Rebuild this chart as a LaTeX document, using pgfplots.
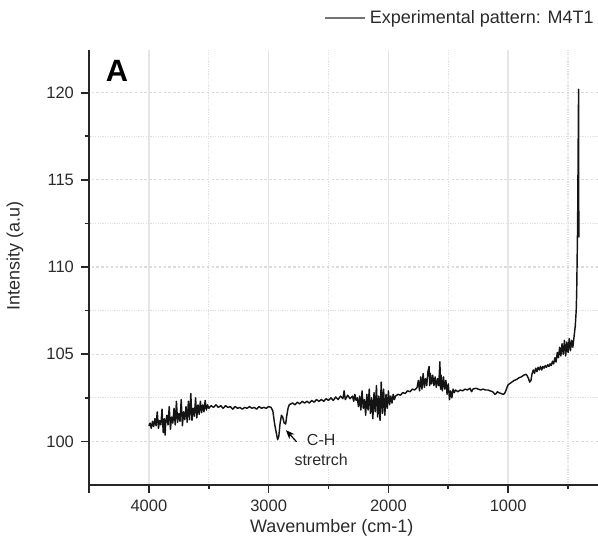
\documentclass[border=0pt]{standalone}
\usepackage{fontspec}
\setmainfont{Liberation Sans}
\usepackage{pgfplots}
\pgfplotsset{compat=1.18}
\usetikzlibrary{arrows.meta}
\definecolor{txt}{HTML}{2B2B2B}
\definecolor{trace}{HTML}{141414}
\begin{document}
\begin{tikzpicture}
\begin{axis}[
  scale only axis, width=254.5pt, height=217.5pt,
  x dir=reverse, xmin=250, xmax=4500, ymin=97.5, ymax=122.45,
  axis x line*=bottom, axis y line*=left,
  axis line style={line width=0.9pt, black!85, -},
  xtick={1000,2000,3000,4000}, minor xtick={500,1500,2500,3500},
  extra x ticks={4500}, extra x tick labels={}, extra x tick style={grid=none},
  ytick={100,105,110,115,120}, minor ytick={102.5,107.5,112.5,117.5},
  tick align=outside, major tick length=4pt, minor tick length=2.2pt,
  tick style={black!85, line width=0.8pt},
  grid=both,
  major x grid style={gray!20, line width=0.8pt},
  minor x grid style={gray!25, dash pattern=on 0.6pt off 0.6pt, line width=0.6pt},
  major y grid style={gray!28, dash pattern=on 1.2pt off 1.2pt, line width=0.6pt},
  minor y grid style={gray!25, dash pattern=on 0.6pt off 0.6pt, line width=0.6pt},
  ticklabel style={font=\fontsize{8.25}{9}\selectfont, text=txt},
  /pgf/number format/assume math mode=true,
  /pgf/number format/1000 sep={},
  every axis x label/.style={at={(axis description cs:0.477,0)}, yshift=-21.5pt, anchor=center},
  every axis y label/.style={at={(axis description cs:0,0.526)}, xshift=-37pt, rotate=90, anchor=center},
  label style={font=\fontsize{9}{10}\selectfont, text=txt},
  xlabel={Wavenumber (cm-1)},
  ylabel={Intensity (a.u)},
  legend style={at={(rel axis cs:1,1)}, anchor=east, xshift=0pt, yshift=16pt,
    draw=none, fill=none, font=\fontsize{9}{10}\selectfont, text=txt,
    inner xsep=0pt, inner ysep=0pt},
  legend cell align=left,
  legend image code/.code={\draw[gray!90!black, line width=0.6pt] (0pt,0pt) -- (20pt,0pt);},
]
\addplot[trace, line width=0.72pt, line join=round] table {
x y
4000 100.9
3990 101.05
3980 100.75
3970 101.15
3960 100.85
3950 101.3
3940 100.9
3930 101.7
3920 100.75
3910 101.2
3900 100.95
3890 101.85
3880 100.5
3870 101.3
3865 100.36
3860 101.0
3850 101.5
3840 100.95
3830 102.0
3820 100.7
3810 101.4
3800 101.05
3790 101.9
3780 100.95
3770 102.3
3760 101.1
3750 101.6
3740 101.15
3730 102.4
3720 100.9
3710 101.7
3700 101.25
3690 102.0
3680 101.1
3670 102.3
3660 101.25
3650 102.75
3640 101.2
3630 101.9
3620 101.45
3610 102.5
3600 101.35
3590 102.1
3580 101.55
3570 102.3
3560 101.65
3550 102.1
3540 101.7
3530 102.35
3520 101.8
3510 102.1
3500 101.9
3480 102.05
3460 101.95
3440 102.1
3420 101.95
3400 102.05
3380 101.9
3360 102.05
3340 101.95
3320 102.0
3300 101.85
3280 102.0
3260 101.9
3240 101.95
3220 101.85
3200 101.95
3180 101.9
3160 102.0
3140 101.9
3120 101.95
3100 101.85
3080 102.0
3060 101.9
3040 101.95
3020 101.9
3000 102.0
2980 101.95
2965 101.75
2950 101.0
2935 100.45
2925 100.1
2915 100.3
2905 101.0
2893 101.5
2883 101.4
2870 101.05
2858 101.0
2848 101.5
2838 101.9
2828 102.1
2815 102.15
2800 102.2
2780 102.1
2760 102.25
2740 102.15
2720 102.3
2700 102.2
2680 102.3
2660 102.2
2640 102.35
2620 102.25
2600 102.4
2580 102.3
2560 102.4
2540 102.3
2520 102.45
2500 102.35
2480 102.5
2460 102.35
2440 102.55
2420 102.4
2400 102.6
2380 102.45
2370 102.9
2360 102.4
2340 102.65
2320 102.45
2300 102.6
2290 102.3
2280 102.7
2270 102.35
2260 102.5
2250 102.0
2240 102.6
2230 101.8
2220 102.9
2210 101.9
2200 102.4
2190 101.5
2180 102.7
2170 101.8
2160 103.0
2150 101.6
2140 102.5
2130 101.3
2120 102.8
2110 101.7
2100 103.2
2090 101.4
2080 102.6
2070 101.2
2060 103.4
2050 101.6
2040 103.0
2030 101.5
2020 102.7
2010 101.9
2000 102.9
1990 102.1
1980 102.6
1970 102.2
1960 102.7
1950 102.4
1940 102.6
1920 102.7
1900 102.65
1880 102.8
1860 102.75
1840 102.9
1820 102.85
1800 103.0
1780 102.95
1760 103.1
1750 103.5
1740 102.9
1730 103.7
1720 103.0
1710 103.9
1700 103.1
1690 103.6
1680 103.2
1670 104.0
1660 104.3
1655 103.2
1650 103.9
1640 103.3
1630 103.8
1620 103.2
1610 103.7
1600 103.1
1590 103.6
1580 103.2
1570 104.57
1565 103.0
1560 103.8
1550 102.9
1540 103.7
1530 103.0
1520 103.5
1510 102.7
1500 103.3
1490 102.4
1480 102.9
1470 102.5
1460 103.0
1450 102.8
1440 102.95
1420 102.85
1400 102.95
1380 102.9
1360 103.0
1340 102.95
1320 103.05
1305 102.85
1295 103.0
1270 103.05
1250 103.0
1230 102.95
1210 103.0
1190 102.95
1170 102.95
1150 102.9
1130 102.85
1110 102.7
1100 102.75
1090 102.85
1080 102.8
1060 102.75
1040 102.7
1030 102.75
1020 102.9
1010 103.1
1000 103.25
990 103.3
970 103.4
950 103.5
930 103.55
910 103.65
890 103.7
870 103.8
850 103.85
840 103.75
830 103.6
820 103.4
810 103.5
800 103.9
790 104.1
780 103.9
770 104.2
760 104.0
750 104.25
740 104.1
730 104.3
720 104.1
710 104.3
700 104.2
690 104.35
680 104.25
670 104.4
660 104.3
650 104.45
640 104.35
630 104.6
620 104.45
610 104.8
600 104.55
590 105.1
580 104.8
570 105.4
560 104.9
550 105.6
540 105.0
530 105.8
520 104.9
510 105.7
500 105.1
490 105.9
480 105.2
470 105.8
460 105.4
450 106.0
440 106.6
432 107.5
428 108.5
424 110.5
420 112.5
418 114.5
416 116.5
414 118.5
412 120.2
411 115.0
410 111.7
};
\addlegendentry{Experimental pattern: M4T1}
\node[font=\bfseries\fontsize{15.4}{16}\selectfont, text=black] at (rel axis cs:0.055,0.952) {A};
\draw[-{Stealth[length=4.5pt,width=3.5pt]}, black, line width=0.6pt] (axis cs:2767,99.98) -- (axis cs:2856,100.65);
\node[align=center, font=\fontsize{8}{10}\selectfont, text=txt] at (axis cs:2561,99.5) {C-H\\stretrch};
\end{axis}
\pgfresetboundingbox
\path ([xshift=-44.5pt,yshift=-30.5pt]current axis.south west) rectangle ([yshift=25pt]current axis.north east);
\end{tikzpicture}
\end{document}
